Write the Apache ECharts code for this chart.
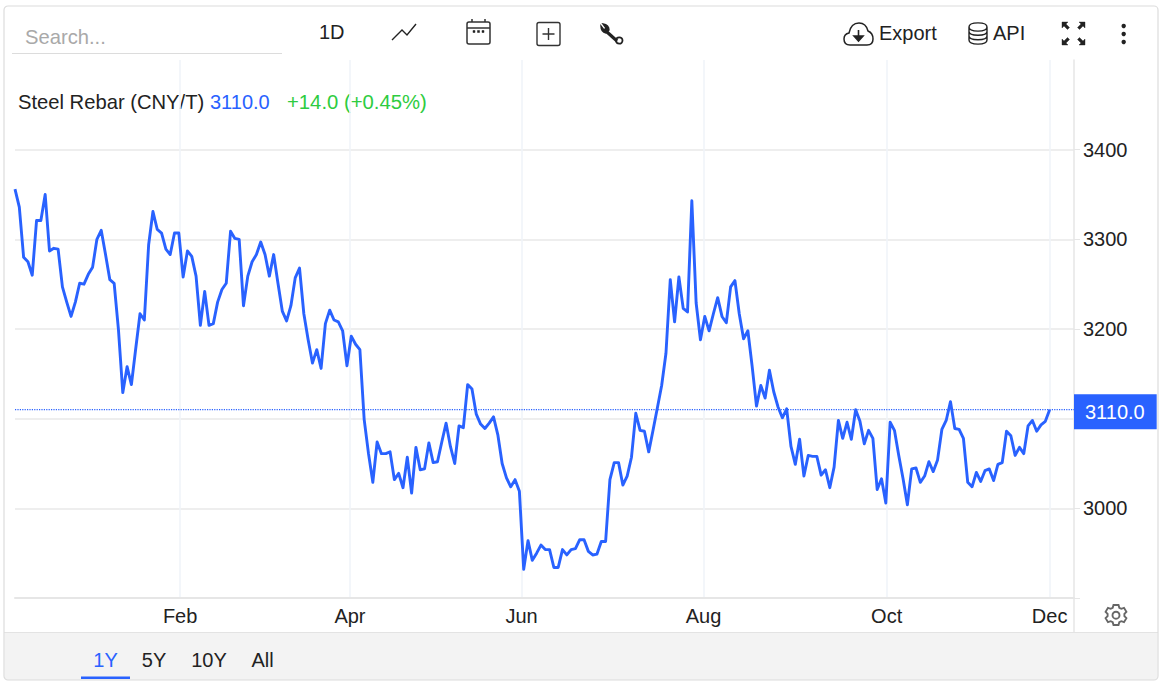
<!DOCTYPE html>
<html><head><meta charset="utf-8">
<style>html,body{margin:0;padding:0;background:#fff}#c{width:1162px;height:682px}</style>
<script src="https://cdn.jsdelivr.net/npm/echarts@6/dist/echarts.min.js"></script>
</head><body><div id="c"></div>
<script>
const seriesName = 'Steel Rebar (CNY/T)';
const lastPriceText = '3110.0';
const changeText = '+14.0 (+0.45%)';
const monthLabels = ['Feb','Apr','Jun','Aug','Oct','Dec'];
const monthTickAt = [38.3,77.7,117.5,159.7,202.2,240];
const rangeLabels = ['1Y','5Y','10Y','All'];
const yMin = 2900, yMax = 3500, yStep = 100;
const yHiddenLabels = [2900,3100,3500];
const yTickValues = [2900,3000,3100,3200,3300,3400];
const xEnd = 245.65;
const lastPrice = 3110;
const prices = [
3356,3336,3280,3275,3260,3321,3321,3350,3287,3290,3289,3247,3230,3214,3230,3251,3250,3261,3269,3300,
3310,3283,3255,3251,3199,3129,3158,3138,3178,3217,3210,3294,3331,3311,3307,3289,3283,3307,3307,3258,
3287,3281,3259,3204,3242,3204,3206,3230,3244,3251,3309,3301,3300,3226,3259,3275,3283,3297,3283,3259,
3283,3251,3220,3209,3226,3257,3268,3217,3188,3162,3177,3156,3206,3221,3210,3208,3198,3159,3192,3183,
3177,3099,3061,3029,3074,3061,3061,3063,3032,3039,3023,3057,3017,3068,3043,3044,3073,3051,3052,3074,
3095,3069,3050,3092,3090,3138,3133,3105,3094,3089,3095,3102,3082,3050,3034,3024,3032,3019,2932,2964,
2942,2950,2959,2954,2954,2934,2934,2954,2948,2954,2955,2965,2965,2952,2948,2949,2963,2963,3032,3051,
3051,3026,3036,3057,3106,3087,3086,3063,3087,3112,3137,3173,3255,3208,3258,3223,3219,3343,3229,3188,
3214,3198,3217,3235,3214,3207,3247,3254,3217,3189,3198,3158,3114,3137,3123,3154,3130,3113,3101,3111,
3069,3049,3077,3036,3059,3058,3058,3037,3043,3023,3046,3098,3078,3096,3077,3110,3097,3072,3087,3078,
3021,3033,3006,3096,3087,3059,3033,3004,3044,3045,3029,3036,3052,3041,3054,3088,3098,3119,3089,3088,
3078,3029,3024,3040,3030,3042,3044,3031,3049,3051,3086,3081,3059,3068,3061,3092,3098,3086,3093,3097,3110];

const BLUE='#2962ff', FONT='"Liberation Sans", Arial, sans-serif', INK='#222';
const chart = echarts.init(document.getElementById('c'), null, {renderer:'svg'});
const txt=(x,y,text,size,fill,align)=>({type:'text',x,y,silent:true,style:{text,fill,font:size+'px '+FONT,textAlign:align||'left',textVerticalAlign:'middle'}});
let iconCount=0;
const ico=(d,stroke,lw,fill)=>{
  const name='chromeIcon'+(iconCount++);
  echarts.graphic.registerShape(name,echarts.graphic.extendPath(d,{}));
  return {type:name,silent:true,style:{fill:fill||'none',stroke:stroke||INK,lineWidth:lw||1.4}};
};
const keyY = 102;
const graphics=[
 {type:'rect',silent:true,z:-1,shape:{x:4.5,y:632,width:1153,height:48,r:[0,0,4,4]},style:{fill:'#f3f3f3',stroke:'none'}},
 {type:'line',silent:true,shape:{x1:4,y1:632.5,x2:1158,y2:632.5},style:{stroke:'#e3e3e3',lineWidth:1}},
 {type:'rect',silent:true,shape:{x:4,y:6,width:1154,height:674,r:4},style:{fill:'none',stroke:'#dcdcdc',lineWidth:1.2}},
 {type:'line',silent:true,shape:{x1:12,y1:53.5,x2:282,y2:53.5},style:{stroke:'#dcdcdc',lineWidth:1}},
 {type:'line',silent:true,shape:{x1:1074,y1:598,x2:1074,y2:632},style:{stroke:'#e6e6e6',lineWidth:1.5}},
 txt(25,37,'Search...',20.2,'#a9a9a9'),
 txt(319,32,'1D',20,INK),
 txt(879,33,'Export',20,INK),
 txt(993,33,'API',20,INK),
 txt(18,keyY,seriesName,20.2,INK),
 txt(210,keyY,lastPriceText,20,BLUE),
 txt(287,keyY,changeText,20.3,'#2ecc40'),
 ico('M392 40 L402 30 L407 35 L416 24',INK,1.4),
 ico('M469 22 H488 Q490 22 490 24 V42 Q490 44 488 44 H469 Q467 44 467 42 V24 Q467 22 469 22 Z M467 28 H490 M472 19 V22 M485 19 V22','#333',1.5),
 ico('M473 30.5 h2 v2 h-2 Z M477.5 30.5 h2 v2 h-2 Z M482 30.5 h2 v2 h-2 Z',INK,.5,INK),
 ico('M539 22.5 H558 Q560 22.5 560 24.5 V43.5 Q560 45.5 558 45.5 H539 Q537 45.5 537 43.5 V24.5 Q537 22.5 539 22.5 Z M548.5 28 V40 M542.5 34 H554.5','#333',1.4),
 ico('M607 32 L617 41',INK,3.2),
 ico('M601 26 Q601 32 606 33 L609 30 Q609 25 603 24 L606 28 L604 30 Z',INK,1.4,INK),
 ico('M622.5 40.5 a3.2 3.2 0 1 1 -6.4 0 a3.2 3.2 0 1 1 6.4 0 Z',INK,1.8),
 ico('M850 45 Q844 45 844 39 Q844 34 849 33 Q851 23 859 23 Q866 23 868 31 Q873 33 873 39 Q873 45 867 45 Z',INK,1.5),
 ico('M858.5 30 V37 M854 36 L858.5 41 L863 36 Z',INK,1.6,INK),
 ico('M969 27 C969 21.5 987 21.5 987 27 C987 32.5 969 32.5 969 27 Z M969 27 V40 C969 45.5 987 45.5 987 40 V27 M969 31.5 C969 36.5 987 36.5 987 31.5 M969 36 C969 41 987 41 987 36',INK,1.4),
 ico('M1062 22 h6 l-2 2 l3.5 3.5 l-2 2 l-3.5 -3.5 l-2 2 Z M1085 22 h-6 l2 2 l-3.5 3.5 l2 2 l3.5 -3.5 l2 2 Z M1062 45 h6 l-2 -2 l3.5 -3.5 l-2 -2 l-3.5 3.5 l-2 -2 Z M1085 45 h-6 l2 -2 l-3.5 -3.5 l2 -2 l3.5 3.5 l2 -2 Z',INK,.4,INK),
 {type:'circle',silent:true,shape:{cx:1123.7,cy:26,r:2.2},style:{fill:INK}},
 {type:'circle',silent:true,shape:{cx:1123.7,cy:34,r:2.2},style:{fill:INK}},
 {type:'circle',silent:true,shape:{cx:1123.7,cy:42,r:2.2},style:{fill:INK}},
 ico('M1113.5 605 h5 l.8 2.8 l2 1 l2.7 -1 l2.4 4 l-2 2 v2.4 l2 2 l-2.4 4 l-2.7 -1 l-2 1 l-.8 2.8 h-5 l-.8 -2.8 l-2 -1 l-2.7 1 l-2.4 -4 l2 -2 v-2.4 l-2 -2 l2.4 -4 l2.7 1 l2 -1 Z M1119.5 615.2 a3.5 3.5 0 1 1 -7 0 a3.5 3.5 0 1 1 7 0 Z','#666',1.9),
 {type:'rect',silent:true,shape:{x:81,y:676.5,width:49,height:2.5},style:{fill:BLUE}}
];
const rangeX=[105.5,154,209,262.5];
rangeLabels.forEach((r,i)=>graphics.push(txt(rangeX[i],660,r,20,i===0?BLUE:INK,'center')));

chart.setOption({
 animation:false,
 textStyle:{fontFamily:FONT},
 grid:{show:false,borderWidth:0,left:15,right:88,top:60,height:538,containLabel:false},
 xAxis:{type:'value',min:0,max:xEnd,
  axisLine:{show:true,onZero:false,lineStyle:{color:'#e6e6e6',width:2}},
  axisTick:{show:false,customValues:monthTickAt},
  axisLabel:{customValues:monthTickAt,margin:8,fontSize:20,color:INK,fontFamily:FONT,showMinLabel:true,showMaxLabel:true,hideOverlap:false,
   formatter:v=>monthLabels[monthTickAt.indexOf(v)]||''},
  splitLine:{show:true,showMinLine:true,showMaxLine:true,customValues:monthTickAt,lineStyle:{color:'#eff3f8',width:1.5}}},
 yAxis:{type:'value',position:'right',min:yMin,max:yMax,interval:yStep,
  axisLine:{show:true,onZero:false,lineStyle:{color:'#e6e6e6',width:1.5}},
  axisTick:{show:true,length:6,customValues:yTickValues,lineStyle:{color:'#e6e6e6',width:1}},
  axisLabel:{margin:9,fontSize:20,color:INK,fontFamily:FONT,lineHeight:18,formatter:v=>yHiddenLabels.includes(v)?'':String(v)},
  splitLine:{show:true,showMinLine:true,showMaxLine:true,customValues:yTickValues,lineStyle:{color:'#e8e8e8',width:1.5}}},
 series:[
  {type:'line',name:'Last price',data:[[0,lastPrice],[xEnd,lastPrice]],showSymbol:false,silent:true,clip:false,
   lineStyle:{color:'#2962ff',type:[1.2,1.2],width:1.2},itemStyle:{color:BLUE}},
  {type:'line',name:seriesName,data:prices.map((v,i)=>[i,v]),showSymbol:false,smooth:false,clip:false,
  lineStyle:{color:BLUE,width:2.9,join:'round'},itemStyle:{color:BLUE},
  markLine:{silent:true,symbol:'none',animation:false,
   lineStyle:{color:'rgba(255,255,255,0)',width:1,opacity:1},
   label:{show:true,position:'end',distance:0,offset:[0,2],formatter:lastPriceText,backgroundColor:BLUE,color:'#fff',fontSize:20,fontFamily:FONT,padding:[8,12,7,11]},
   data:[{yAxis:lastPrice}]}}],
 graphic:{elements:graphics}
});
</script></body></html>
